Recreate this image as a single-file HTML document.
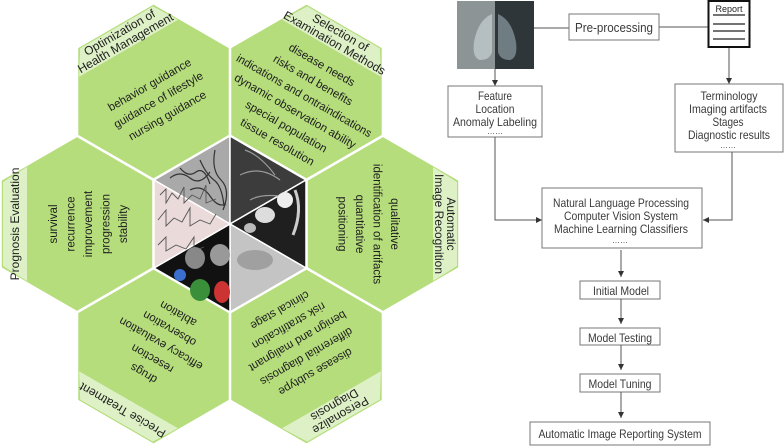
<!DOCTYPE html>
<html><head><meta charset="utf-8"><style>
html,body{margin:0;padding:0;background:#fff;}
svg{display:block;}
.h{fill:#b5dd7c;stroke:#fff;stroke-width:2;}
.b{fill:#def1c6;}
.t{font-family:"Liberation Sans",Arial,sans-serif;font-size:11.5px;fill:#1e1e1e;text-anchor:middle;}
.bt{font-family:"Liberation Sans",Arial,sans-serif;font-size:12px;fill:#1e1e1e;text-anchor:middle;}
.f{font-family:"Liberation Sans",Arial,sans-serif;font-size:12px;fill:#3a3a3a;text-anchor:middle;}
.bx{fill:#fff;stroke:#777;stroke-width:1;}
.ln{stroke:#555;stroke-width:1;fill:none;}
</style></head><body>
<svg width="784" height="446" viewBox="0 0 784 446" xmlns="http://www.w3.org/2000/svg">
<defs>
<marker id="ar" viewBox="0 0 6 6" refX="6" refY="3" markerWidth="6" markerHeight="6" orient="auto"><path d="M0,0 L6,3 L0,6 z" fill="#333"/></marker>
</defs>

<g transform="translate(77,224) rotate(-90)">
<polygon class="h" points="88,0 44,-76.2 -44,-76.2 -88,0 -44,76.2 44,76.2"/>
<polygon class="b" points="-42,-74 42,-74 57,-50 -57,-50"/>
<text class="bt" x="0" y="-58">Prognosis Evaluation</text>
<text class="t" x="0" y="-20">survival</text>
<text class="t" x="0" y="-2.5">recurrence</text>
<text class="t" x="0" y="15">improvement</text>
<text class="t" x="0" y="32.5">progression</text>
<text class="t" x="0" y="50">stability</text>
</g>
<g transform="translate(153.5,91.5) rotate(-30)">
<polygon class="h" points="88,0 44,-76.2 -44,-76.2 -88,0 -44,76.2 44,76.2"/>
<polygon class="b" points="-42,-74 42,-74 57,-50 -57,-50"/>
<text class="bt" x="0" y="-64">Optimization of</text>
<text class="bt" x="0" y="-52">Health Management</text>
<text class="t" x="0" y="-4">behavior guidance</text>
<text class="t" x="0" y="13.5">guidance of lifestyle</text>
<text class="t" x="0" y="31.5">nursing guidance</text>
</g>
<g transform="translate(306.5,91.5) rotate(30)">
<polygon class="h" points="88,0 44,-76.2 -44,-76.2 -88,0 -44,76.2 44,76.2"/>
<polygon class="b" points="-42,-74 42,-74 57,-50 -57,-50"/>
<text class="bt" x="0" y="-64">Selection of</text>
<text class="bt" x="0" y="-52">Examination Methods</text>
<text class="t" x="0" y="-27">disease needs</text>
<text class="t" x="0" y="-9.2">risks and benefits</text>
<text class="t" x="0" y="8.6" textLength="154" lengthAdjust="spacingAndGlyphs">indications and ontraindications</text>
<text class="t" x="0" y="26.4">dynamic observation ability</text>
<text class="t" x="0" y="44.2">special population</text>
<text class="t" x="0" y="62">tissue resolution</text>
</g>
<g transform="translate(383,224) rotate(90)">
<polygon class="h" points="88,0 44,-76.2 -44,-76.2 -88,0 -44,76.2 44,76.2"/>
<polygon class="b" points="-42,-74 42,-74 57,-50 -57,-50"/>
<text class="bt" x="0" y="-64">Automatic</text>
<text class="bt" x="0" y="-52">Image Recognition</text>
<text class="t" x="0" y="-8">qualitative</text>
<text class="t" x="0" y="9.5">identification of artifacts</text>
<text class="t" x="0" y="27">quantitative</text>
<text class="t" x="0" y="44.5">positioning</text>
</g>
<g transform="translate(306.5,356.5) rotate(150)">
<polygon class="h" points="88,0 44,-76.2 -44,-76.2 -88,0 -44,76.2 44,76.2"/>
<polygon class="b" points="-42,-74 42,-74 57,-50 -57,-50"/>
<text class="bt" x="0" y="-64">Personalize</text>
<text class="bt" x="0" y="-52">Diagnosis</text>
<text class="t" x="0" y="-14">disease subtype</text>
<text class="t" x="0" y="3.75">differential diagnosis</text>
<text class="t" x="0" y="21.5">benign and malignant</text>
<text class="t" x="0" y="39.25">risk stratification</text>
<text class="t" x="0" y="57">clinical stage</text>
</g>
<g transform="translate(153.5,356.5) rotate(-150)">
<polygon class="h" points="88,0 44,-76.2 -44,-76.2 -88,0 -44,76.2 44,76.2"/>
<polygon class="b" points="-42,-74 42,-74 57,-50 -57,-50"/>
<text class="bt" x="0" y="-58">Precise Treatment</text>
<text class="t" x="0" y="-16">drugs</text>
<text class="t" x="0" y="1.25">resection</text>
<text class="t" x="0" y="18.5">efficacy evaluation</text>
<text class="t" x="0" y="35.75">observation</text>
<text class="t" x="0" y="53">ablation</text>
</g>

<g stroke="#fff" stroke-width="1.5">
<polygon points="230,224 230,136 154,180" fill="#a9a9a9"/>
<polygon points="230,224 230,136 306,180" fill="#3c3c3c"/>
<polygon points="230,224 306,180 306,268" fill="#1f1f1f"/>
<polygon points="230,224 306,268 230,312" fill="#c4c4c4"/>
<polygon points="230,224 230,312 154,268" fill="#111"/>
<polygon points="230,224 154,268 154,180" fill="#eadada"/>
</g>
<g fill="none" stroke-width="1.2">
<path d="M170,178 q10,-8 20,0 t20,-6 M180,168 q8,10 16,4 t14,12 M200,160 q6,14 14,20 t10,26 M215,150 q-4,20 6,30 t2,30 M190,190 q12,-6 20,6 t16,8" stroke="#333"/>
<path d="M245,150 q15,5 30,25 M240,175 q20,-10 40,5 M250,200 q10,-6 30,-4" stroke="#999"/>
<path d="M160,195 l6,-6 l0,14 l6,-10 l6,6 l6,-12 l0,16 l8,-8 l8,4 l6,-14 l0,18 l10,-4 M158,220 l8,-10 l0,16 l8,-8 l8,4 l8,-14 l0,18 l10,-6 l10,4 l6,-10 M158,245 l8,-8 l0,14 l10,-6 l10,4 l8,-12 l0,14 l10,-4" stroke="#555" stroke-width="0.9"/>
</g>
<g>
<ellipse cx="265" cy="215" rx="10" ry="8" fill="#ddd"/><ellipse cx="285" cy="200" rx="8" ry="8" fill="#eee"/><ellipse cx="250" cy="228" rx="6" ry="5" fill="#bbb"/>
<path d="M295,190 q8,20 -2,45" stroke="#ccc" stroke-width="3" fill="none"/>
<ellipse cx="255" cy="260" rx="18" ry="10" fill="#888" opacity="0.6"/>
<ellipse cx="195" cy="258" rx="10" ry="11" fill="#888"/><ellipse cx="220" cy="255" rx="10" ry="11" fill="#999"/>
<ellipse cx="200" cy="290" rx="10" ry="11" fill="#3a8f3a"/><ellipse cx="222" cy="292" rx="8" ry="11" fill="#c33"/>
<ellipse cx="180" cy="275" rx="6" ry="6" fill="#3a6fd0"/>
</g>

<rect x="457" y="1" width="38" height="68" fill="#8d9496"/>
<rect x="495" y="1" width="39" height="68" fill="#2f363a"/>
<path d="M492,14 q-14,6 -18,28 q-2,16 6,18 q10,0 12,-8 z" fill="#b5bec1"/>
<path d="M498,14 q14,6 18,28 q2,16 -6,18 q-10,0 -12,-8 z" fill="#6f7c81"/>
<line class="ln" x1="534" y1="28" x2="569" y2="28"/>
<line class="ln" x1="659" y1="27" x2="708" y2="27"/>
<rect class="bx" x="569" y="14" width="90" height="26"/>
<text class="f" x="614" y="32" style="font-size:13px" textLength="78" lengthAdjust="spacingAndGlyphs">Pre-processing</text>
<rect x="708.5" y="1" width="41" height="46" fill="#fff" stroke="#111" stroke-width="2"/>
<text class="f" x="729" y="12" style="font-size:9px;fill:#222">Report</text>
<g stroke="#222" stroke-width="1.3"><line x1="713" y1="15" x2="745" y2="15"/><line x1="713" y1="24" x2="745" y2="24"/><line x1="713" y1="31" x2="745" y2="31"/><line x1="713" y1="39" x2="745" y2="39"/></g>

<line class="ln" x1="495" y1="69" x2="495" y2="86" marker-end="url(#ar)"/>
<line class="ln" x1="729" y1="48" x2="729" y2="84" marker-end="url(#ar)"/>
<rect class="bx" x="448" y="86" width="94" height="51"/>
<text class="f" x="495" y="100" textLength="34" lengthAdjust="spacingAndGlyphs">Feature</text>
<text class="f" x="495" y="113" textLength="39" lengthAdjust="spacingAndGlyphs">Location</text>
<text class="f" x="495" y="126" textLength="84" lengthAdjust="spacingAndGlyphs">Anomaly Labeling</text>
<text class="f" x="495" y="134" style="font-size:8px">……</text>
<rect class="bx" x="675" y="84" width="108" height="68"/>
<text class="f" x="729" y="100" textLength="57" lengthAdjust="spacingAndGlyphs">Terminology</text>
<text class="f" x="728" y="113" textLength="78" lengthAdjust="spacingAndGlyphs">Imaging artifacts</text>
<text class="f" x="728" y="126" textLength="31" lengthAdjust="spacingAndGlyphs">Stages</text>
<text class="f" x="729" y="139" textLength="82" lengthAdjust="spacingAndGlyphs">Diagnostic results</text>
<text class="f" x="728" y="148" style="font-size:8px">……</text>

<polyline class="ln" points="495,137 495,220 542,220" marker-end="url(#ar)"/>
<polyline class="ln" points="732,152 732,220 703,220" marker-end="url(#ar)"/>
<rect class="bx" x="542" y="188" width="160" height="60"/>
<text class="f" x="621" y="207" textLength="136" lengthAdjust="spacingAndGlyphs">Natural Language Processing</text>
<text class="f" x="621" y="220" textLength="114" lengthAdjust="spacingAndGlyphs">Computer Vision System</text>
<text class="f" x="621" y="233" textLength="134" lengthAdjust="spacingAndGlyphs">Machine Learning Classifiers</text>
<text class="f" x="620" y="243" style="font-size:8px">……</text>

<line class="ln" x1="621" y1="250" x2="621" y2="277" marker-end="url(#ar)"/>
<rect class="bx" x="580" y="281" width="80" height="18"/>
<text class="f" x="621" y="295" textLength="56" lengthAdjust="spacingAndGlyphs">Initial Model</text>
<line class="ln" x1="621" y1="299" x2="621" y2="324" marker-end="url(#ar)"/>
<rect class="bx" x="580" y="328" width="80" height="17"/>
<text class="f" x="620" y="342" textLength="64" lengthAdjust="spacingAndGlyphs">Model Testing</text>
<line class="ln" x1="621" y1="345" x2="621" y2="370" marker-end="url(#ar)"/>
<rect class="bx" x="580" y="374" width="80" height="18"/>
<text class="f" x="620" y="388" textLength="63" lengthAdjust="spacingAndGlyphs">Model Tuning</text>
<line class="ln" x1="621" y1="392" x2="621" y2="418" marker-end="url(#ar)"/>
<rect class="bx" x="530" y="422" width="180" height="23"/>
<text class="f" x="620" y="438" textLength="163" lengthAdjust="spacingAndGlyphs">Automatic Image Reporting System</text>
</svg>
</body></html>
